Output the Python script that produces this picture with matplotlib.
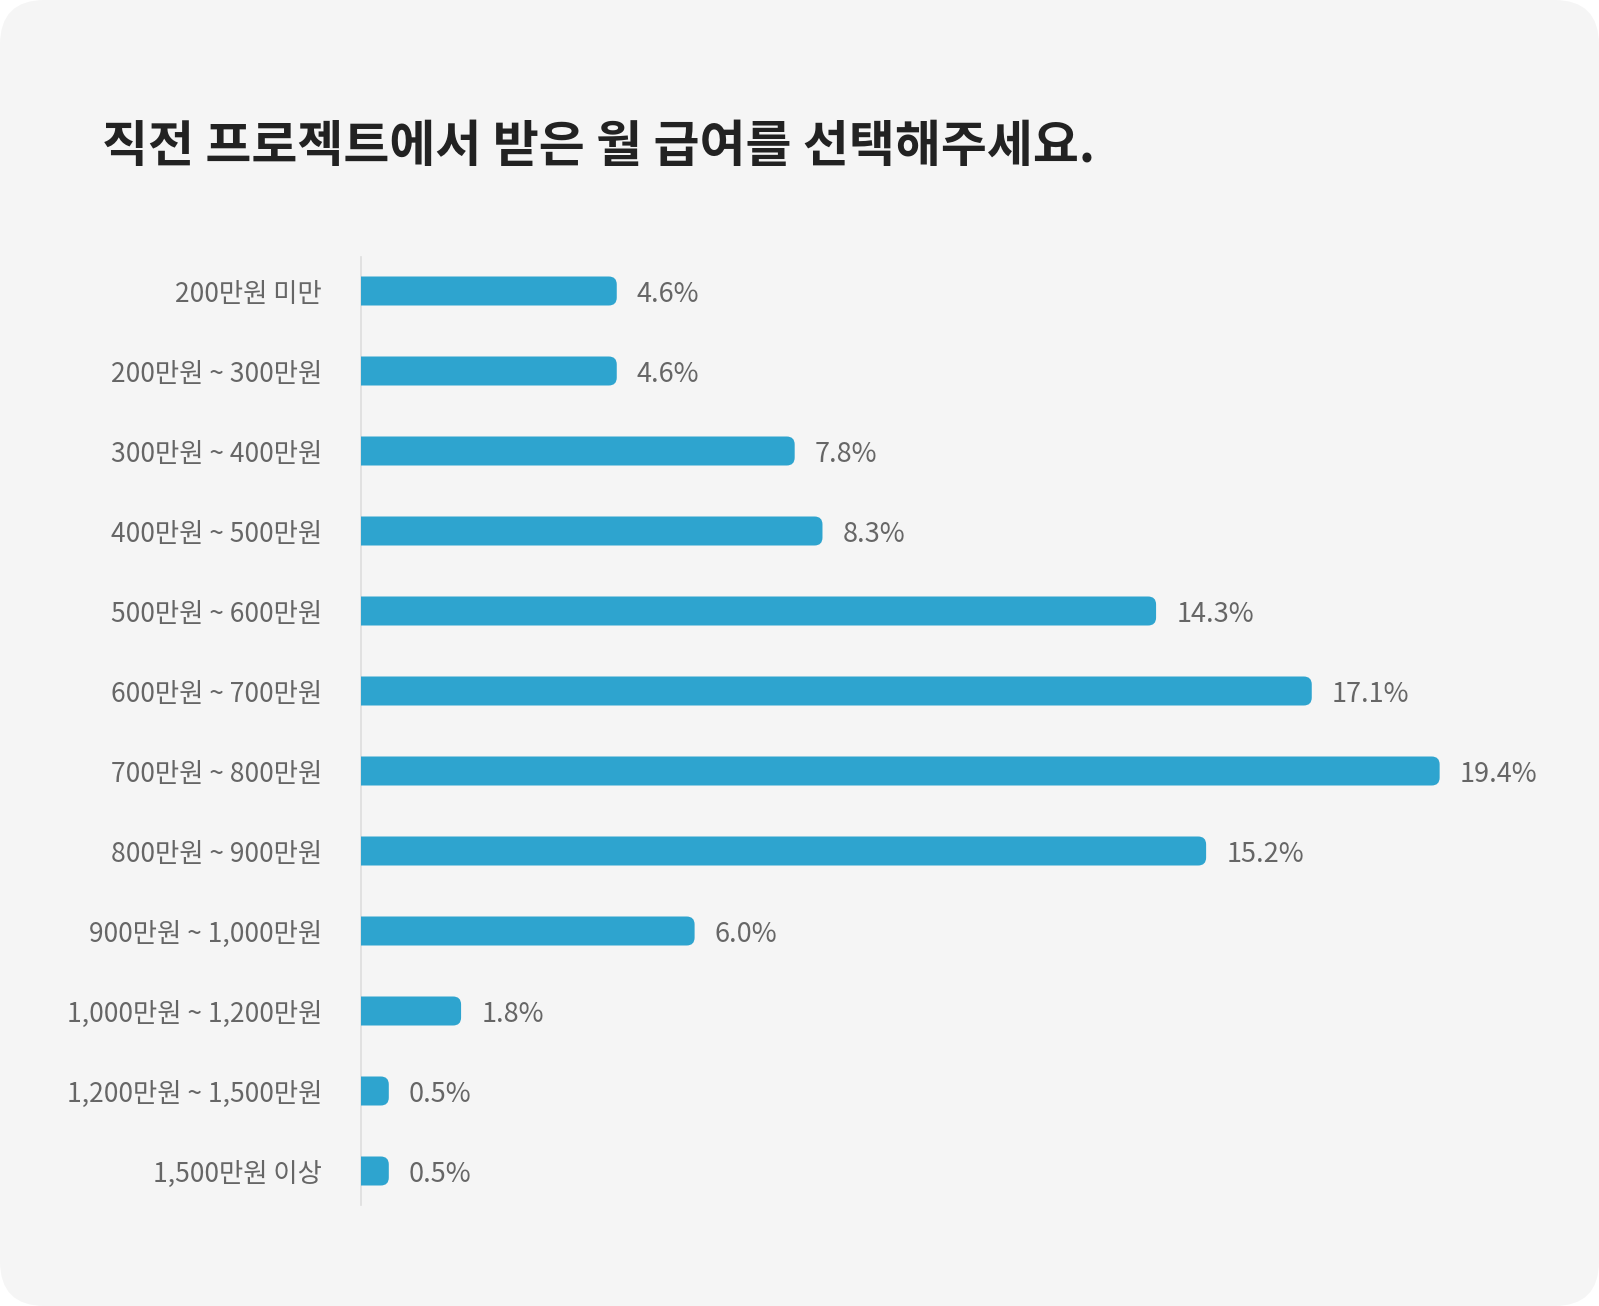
import matplotlib.pyplot as plt
from matplotlib.patches import FancyBboxPatch

plt.rcParams['font.family'] = ['Noto Sans CJK KR', 'DejaVu Sans']

title = "직전 프로젝트에서 받은 월 급여를 선택해주세요."
categories = ["200만원 미만", "200만원 ~ 300만원", "300만원 ~ 400만원", "400만원 ~ 500만원",
              "500만원 ~ 600만원", "600만원 ~ 700만원", "700만원 ~ 800만원", "800만원 ~ 900만원",
              "900만원 ~ 1,000만원", "1,000만원 ~ 1,200만원", "1,200만원 ~ 1,500만원", "1,500만원 이상"]
shares = [4.6, 4.6, 7.8, 8.3, 14.3, 17.1, 19.4, 15.2, 6.0, 1.8, 0.5, 0.5]

W, H = 1599, 1306
bar_color = "#2ea4cf"
text_gray = "#666666"

fig = plt.figure(figsize=(W / 100, H / 100), dpi=100, facecolor="white")

# rounded card behind everything
card = FancyBboxPatch((0, 0), 1, 1, boxstyle="round,pad=0,rounding_size=0.028",
                      mutation_aspect=W / H, transform=fig.transFigure,
                      facecolor="#f5f5f5", edgecolor="none", zorder=-5)
fig.patches.append(card)

fig.text(102 / W, 1 - 147 / H, title, fontsize=36, fontweight="bold",
         color="#222222", ha="left", va="center")

ax_left, ax_top, ax_bottom = 361, 257, 1205
ax = fig.add_axes([ax_left / W, 1 - ax_bottom / H, 1 - ax_left / W, (ax_bottom - ax_top) / H])
ax.set_facecolor("none")
ax.set_zorder(2)

px_per_unit = 55.6
ax.set_xlim(0, (W - ax_left) / px_per_unit)
ax.set_ylim(11.425, -0.425)

bar_h = 0.3625
ypos = list(range(len(categories)))

bars = ax.barh(ypos, shares, height=bar_h, color=bar_color, linewidth=0)

# swap each bar for one with a rounded right end (left end hidden past the axis)
y_per_px = (11.425 + 0.425) / (ax_bottom - ax_top)
x_per_px = 1 / px_per_unit
ext = 0.5
for rect in bars:
    x0, y0 = rect.get_x(), rect.get_y()
    w, h = rect.get_width(), rect.get_height()
    rect.set_visible(False)
    p = FancyBboxPatch((x0 - ext, y0), w + ext, h,
                       boxstyle="round,pad=0,rounding_size=%f" % (8 * x_per_px),
                       mutation_aspect=y_per_px / x_per_px,
                       facecolor=bar_color, edgecolor="none", linewidth=0, zorder=2)
    ax.add_patch(p)

for y, v in zip(ypos, shares):
    ax.annotate("%.1f%%" % v, xy=(v, y), xytext=(14.5, 0), textcoords="offset points",
                ha="left", va="center_baseline", fontsize=19.5, color=text_gray)

ax.set_yticks(ypos)
ax.set_yticklabels(categories, fontsize=19, color=text_gray)
ax.tick_params(axis="y", length=0, pad=28)
ax.set_xticks([])
for side in ["top", "right", "bottom"]:
    ax.spines[side].set_visible(False)
ax.spines["left"].set_color("#dddddd")
ax.spines["left"].set_linewidth(1.2)
ax.spines["left"].set_zorder(1)

fig.savefig("out.png", dpi=100, facecolor="white")
